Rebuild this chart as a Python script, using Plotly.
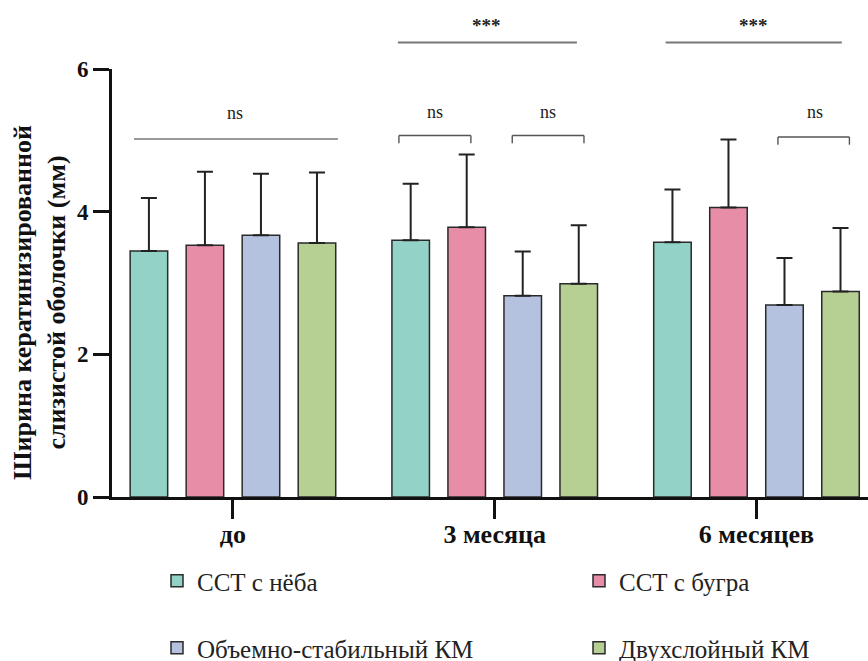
import plotly.graph_objects as go

categories = ["до", "3 месяца", "6 месяцев"]
series_names = ["ССТ с нёба", "ССТ с бугра", "Объемно-стабильный КМ", "Двухслойный КМ"]
teal_mean = [3.45, 3.60, 3.57]
teal_sd = [0.74, 0.79, 0.74]
pink_mean = [3.53, 3.78, 4.06]
pink_sd = [1.03, 1.02, 0.95]
blue_mean = [3.67, 2.82, 2.69]
blue_sd = [0.86, 0.62, 0.66]
green_mean = [3.56, 2.99, 2.88]
green_sd = [0.99, 0.82, 0.89]
y_ticks = [0, 2, 4, 6]

colors = ["#93d3c7", "#e88da8", "#b4c2e0", "#b6cf93"]
means = [teal_mean, pink_mean, blue_mean, green_mean]
sds = [teal_sd, pink_sd, blue_sd, green_sd]
legend_ids = ["legend", "legend2", "legend3", "legend4"]

FONT = "Liberation Serif, Times New Roman, serif"
fig = go.Figure()
for i, (name, m, s, c) in enumerate(zip(series_names, means, sds, colors)):
    fig.add_trace(go.Bar(
        x=categories, y=m, name=name,
        marker=dict(color=c, line=dict(color="#2a2a2a", width=1.5)),
        error_y=dict(type="data", array=s, arrayminus=[0]*len(s), symmetric=False,
                     color="#222222", thickness=2, width=8),
        legend=legend_ids[i],
    ))

# significance markers (positions in axis/paper units)
def yp(px):
    return (497 - px) / 428.0

shapes = []
def hline(x0, x1, y, color="#777777", w=1.6):
    shapes.append(dict(type="line", xref="x", yref="paper", x0=x0, x1=x1, y0=y, y1=y,
                       line=dict(color=color, width=w)))
def bracket(x0, x1, y, drop=0.018):
    hline(x0, x1, y, "#555555", 1.4)
    for xx in (x0, x1):
        shapes.append(dict(type="line", xref="x", yref="paper", x0=xx, x1=xx, y0=y, y1=y - drop,
                           line=dict(color="#555555", width=1.4)))

hline(-0.378, 0.401, yp(139), "#777777", 1.4)
hline(0.630, 1.314, yp(42.5), "#777777", 2)
hline(1.653, 2.326, yp(42.5), "#777777", 2)
bracket(0.634, 0.909, yp(135.5))
bracket(1.067, 1.341, yp(135.5))
bracket(2.082, 2.355, yp(137))

annotations = []
def label(x, y, text, size=18):
    annotations.append(dict(x=x, y=y, xref="x", yref="paper", text=text, showarrow=False,
                            font=dict(family=FONT, size=size, color="#222222"),
                            xanchor="center", yanchor="middle"))
label(0.008, yp(113), "ns")
label(0.772, yp(112), "ns")
label(1.203, yp(112), "ns")
label(2.223, yp(112), "ns")
label(0.969, yp(25), "<b>***</b>", size=19)
label(1.987, yp(25), "<b>***</b>", size=19)

annotations.append(dict(x=0, y=yp(303), xref="paper", yref="paper", xshift=-73,
                        text="<b>Ширина кератинизированной<br>слизистой оболочки (мм)</b>",
                        textangle=-90, showarrow=False, xanchor="center", yanchor="middle",
                        font=dict(family=FONT, size=26, color="#111111")))

legend_pos = [(157, 581), (579, 581), (157, 648), (579, 648)]
legends = {}
for lid, (px, py) in zip(legend_ids, legend_pos):
    legends[lid] = dict(orientation="h", xref="container", yref="container",
                        x=px/868, y=1 - py/661, xanchor="left", yanchor="middle",
                        font=dict(family=FONT, size=25, color="#222222"),
                        bgcolor="rgba(0,0,0,0)")

fig.update_layout(
    width=868, height=661,
    margin=dict(l=112, r=0, t=69, b=164),
    paper_bgcolor="white", plot_bgcolor="white",
    font=dict(family=FONT, color="#111111"),
    barmode="group", bargap=0.144, bargroupgap=0.33,
    shapes=shapes, annotations=annotations,
    showlegend=True,
    **legends,
)
fig.update_xaxes(
    range=[-0.462, 2.426], showline=True, linecolor="#111111", linewidth=3,
    ticks="outside", ticklen=19, tickwidth=3, tickcolor="#111111",
    ticklabelstandoff=-7,
    tickfont=dict(family=FONT, size=26, color="#111111"),
    ticktext=["<b>" + c + "</b>" for c in categories], tickvals=categories,
    showgrid=False, zeroline=False,
)
fig.update_yaxes(
    range=[0, 6], tickvals=y_ticks, ticktext=["<b>%d</b>" % v for v in y_ticks],
    showline=True, linecolor="#111111", linewidth=3,
    ticks="outside", ticklen=16, tickwidth=3, tickcolor="#111111",
    tickfont=dict(family=FONT, size=23, color="#111111"),
    showgrid=False, zeroline=False,
)
fig.write_html("out.html")
